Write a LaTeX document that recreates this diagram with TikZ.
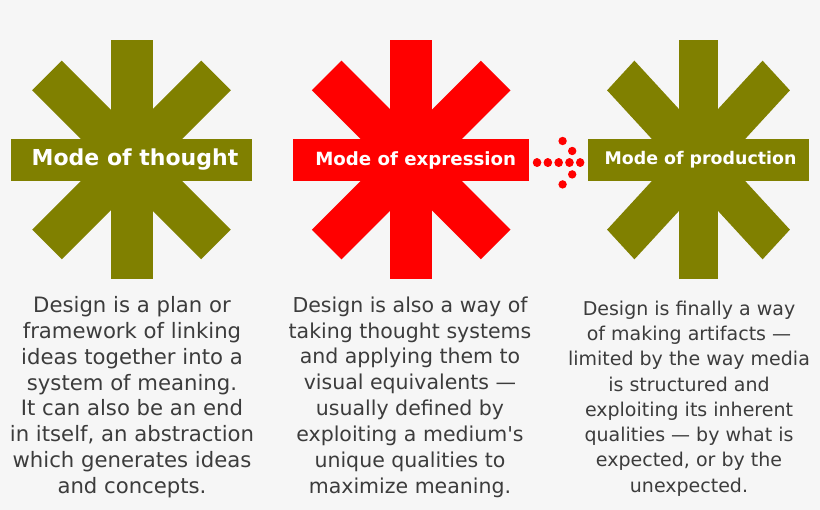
\documentclass[tikz,border=0pt]{standalone}
\usepackage{fontspec}
\setmainfont{DejaVu Sans}
\usetikzlibrary{positioning}
\definecolor{bgcol}{HTML}{F6F6F6}
\definecolor{oliv}{HTML}{808000}
\definecolor{txtcol}{HTML}{3C3C3C}

\begin{document}
\begin{tikzpicture}[x=1pt,y=-1pt,
  bar/.style={fill=#1,inner sep=0pt,minimum height=42pt,text=white},
  desc/.style={anchor=north,align=center,text=txtcol,inner sep=0pt},
  dotline/.style={red,line width=8.4pt,line cap=round,dash pattern=on 0.2pt off 10.6pt}]

  \fill[bgcol] (0,0) rectangle (820,510);

  % the three asterisks (arms other than the horizontal one)
  \foreach \cx/\sx/\col in {131.5/1/oliv,411.2/1/red,698.5/0.92/oliv}{
    \begin{scope}[shift={(\cx,160)},xscale=\sx]
      \foreach \a in {45,90,135}
        \fill[\col,rotate=\a] (-119.5,-21) rectangle (119.5,21);
    \end{scope}
  }

  % horizontal bars with the labels
  \node[bar=oliv,minimum width=241pt,font=\bfseries\fontsize{22}{26}\selectfont]
    (thought) at (131.5,160) {\kern7pt Mode of thought};
  \node[bar=red,minimum width=236.3pt,font=\bfseries\fontsize{18.2}{22}\selectfont]
    (expression) at (411.2,160) {\kern9pt Mode of expression};
  \node[bar=oliv,minimum width=221.6pt,font=\bfseries\fontsize{17.4}{21}\selectfont]
    (production) at (698.5,160) {\kern4pt Mode of production};

  % dotted arrow
  \coordinate (tip) at ([xshift=-7.6pt,yshift=-2.7pt]production.west);
  \draw[dotline] ([xshift=7.4pt,yshift=-2.7pt]expression.east) -- ([xshift=0.3pt]tip);
  \foreach \dx/\dy in {-17.3/-21.7,-7.7/-11.7,-7.7/11.7,-17.3/21.7}
    \fill[red] ([shift={(\dx,\dy)}]tip) circle (4.2);

  % descriptions
  \node[desc,font=\fontsize{21.2}{25.9}\selectfont] (thoughttext) at (132,296)
    {Design is a plan or\\framework of linking\\ideas together into a\\system of meaning.\\
     It can also be an end\\in itself, an abstraction\\which generates ideas\\and concepts.};
  \node[desc,font=\fontsize{20.5}{25.9}\selectfont] (expressiontext) at (410,296.4)
    {Design is also a way of\\taking thought systems\\and applying them to\\visual equivalents —\\
     usually defined by\\exploiting a medium\textquotesingle s\\unique qualities to\\maximize meaning.};
  \node[desc,font=\fontsize{19}{25.3}\selectfont] (productiontext) at (689,300.5)
    {Design is finally a way\\of making artifacts —\\limited by the way media\\is structured and\\
     exploiting its inherent\\qualities — by what is\\expected, or by the\\unexpected.};
\end{tikzpicture}
\end{document}
